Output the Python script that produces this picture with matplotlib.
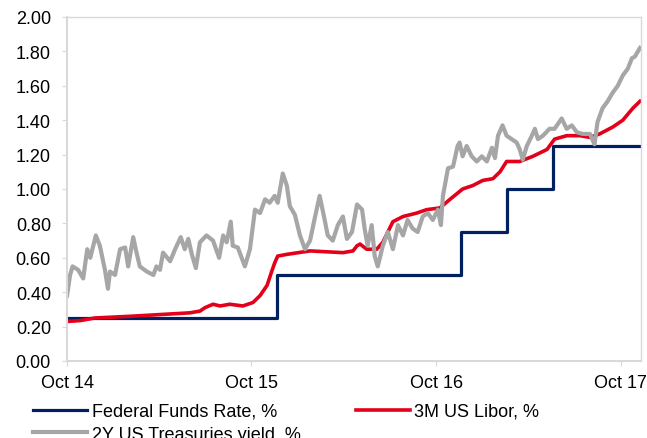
import pandas as pd
import matplotlib
matplotlib.use("Agg")
import matplotlib.pyplot as plt
import matplotlib.ticker as mticker

plt.rcParams['font.family'] = ['Liberation Sans', 'DejaVu Sans']

# day offsets counted from the first observation (27 Oct 2014)
start = pd.Timestamp("2014-10-27")

# 2Y US Treasuries yield, %
ust_days = [0, 6, 11, 22, 32, 40, 46, 57, 65, 75, 81, 85, 95, 105, 115, 121, 131,
            136, 144, 158, 171, 177, 184, 190, 204, 214, 225, 233, 240, 247, 255,
            263, 276, 289, 301, 309, 316, 324, 328, 338, 352, 362, 372, 382, 392,
            401, 411, 417, 427, 435, 441, 451, 461, 471, 481, 491, 500, 510, 516,
            526, 536, 546, 554, 564, 574, 584, 589, 595, 603, 609, 615, 625, 635,
            645, 655, 665, 674, 684, 694, 704, 714, 724, 734, 740, 744, 754, 764,
            773, 777, 783, 791, 801, 811, 821, 831, 841, 847, 853, 862, 870, 880,
            890, 896, 902, 910, 920, 926, 932, 942, 955, 965, 979, 989, 999, 1009,
            1021, 1035, 1044, 1050, 1060, 1070, 1080, 1090, 1100, 1110, 1118, 1124,
            1134]
ust_vals = [0.38, 0.50, 0.55, 0.53, 0.48, 0.65, 0.60, 0.73, 0.67, 0.53, 0.42, 0.52,
            0.50, 0.65, 0.66, 0.55, 0.72, 0.65, 0.55, 0.52, 0.50, 0.55, 0.53, 0.63,
            0.58, 0.65, 0.72, 0.65, 0.71, 0.62, 0.54, 0.69, 0.73, 0.70, 0.60, 0.73,
            0.69, 0.81, 0.67, 0.66, 0.55, 0.65, 0.88, 0.86, 0.94, 0.92, 0.96, 0.92,
            1.09, 1.02, 0.90, 0.85, 0.73, 0.65, 0.70, 0.84, 0.96, 0.82, 0.73, 0.70,
            0.79, 0.84, 0.71, 0.75, 0.91, 0.88, 0.77, 0.67, 0.79, 0.61, 0.55, 0.67,
            0.75, 0.65, 0.79, 0.73, 0.82, 0.77, 0.75, 0.84, 0.86, 0.82, 0.88, 0.79,
            0.96, 1.12, 1.13, 1.25, 1.27, 1.19, 1.25, 1.19, 1.16, 1.19, 1.16, 1.24,
            1.18, 1.31, 1.37, 1.31, 1.29, 1.27, 1.23, 1.17, 1.25, 1.31, 1.35, 1.29,
            1.31, 1.35, 1.35, 1.41, 1.35, 1.37, 1.33, 1.32, 1.32, 1.26, 1.39, 1.47,
            1.51, 1.56, 1.60, 1.66, 1.70, 1.76, 1.77, 1.82]

# 3M US Libor, %
libor_days = [0, 26, 55, 125, 184, 243, 263, 273, 289, 303, 322, 348, 368, 382,
              396, 405, 411, 417, 435, 481, 546, 566, 574, 580, 593, 613, 625, 645,
              665, 692, 712, 738, 758, 783, 803, 823, 843, 857, 870, 896, 922, 950,
              965, 989, 1015, 1035, 1054, 1080, 1100, 1120, 1134]
libor_vals = [0.23, 0.235, 0.25, 0.26, 0.27, 0.28, 0.29, 0.31, 0.33, 0.32, 0.33,
              0.32, 0.34, 0.38, 0.44, 0.52, 0.57, 0.61, 0.62, 0.64, 0.63, 0.64,
              0.67, 0.68, 0.65, 0.65, 0.69, 0.81, 0.84, 0.86, 0.88, 0.89, 0.94,
              1.00, 1.02, 1.05, 1.06, 1.10, 1.16, 1.16, 1.19, 1.23, 1.29, 1.31,
              1.31, 1.30, 1.32, 1.36, 1.40, 1.47, 1.51]

# Federal Funds Rate, % (upper bound, changes)
fed_dates = ["2014-10-27", "2015-12-16", "2016-12-14", "2017-03-15", "2017-06-14", "2017-12-05"]
fed_vals = [0.25, 0.50, 0.75, 1.00, 1.25, 1.25]

tick_labels = ["Oct 14", "Oct 15", "Oct 16", "Oct 17"]

ust_x = start + pd.to_timedelta(ust_days, unit="D")
libor_x = start + pd.to_timedelta(libor_days, unit="D")
fed_x = pd.to_datetime(fed_dates)

fig = plt.figure(figsize=(6.47, 4.39), dpi=100)
ax = fig.add_axes([0.1036, 0.1754, 0.8871, 0.7836])

l_fed, = ax.plot(fed_x, fed_vals, drawstyle="steps-post", color="#002060", lw=2.3,
                 label="Federal Funds Rate, %")
l_lib, = ax.plot(libor_x, libor_vals, color="#e2001a", lw=2.6, label="3M US Libor, %")
l_ust, = ax.plot(ust_x, ust_vals, color="#a6a6a6", lw=3.0, label="2Y US Treasuries yield, %")

ax.set_ylim(0, 2.0)
ax.set_xlim(start, start + pd.Timedelta(days=1136))
ax.yaxis.set_major_locator(mticker.MultipleLocator(0.2))
ax.yaxis.set_major_formatter(mticker.FormatStrFormatter("%.2f"))

ticks = [start + pd.DateOffset(years=i) for i in range(len(tick_labels))]
ax.set_xticks(ticks)
ax.set_xticklabels(tick_labels)

for sp in ax.spines.values():
    sp.set_color("#d9d9d9")
    sp.set_linewidth(1.0)
ax.spines["left"].set_linewidth(1.5)
ax.spines["bottom"].set_linewidth(1.5)
ax.tick_params(axis="y", length=3.6, color="#d9d9d9", pad=8, labelsize=13)
ax.tick_params(axis="x", length=3.6, color="#d9d9d9", pad=6, labelsize=13)

fig.legend([l_fed, l_ust, l_lib], [l.get_label() for l in (l_fed, l_ust, l_lib)],
           ncol=2, loc="upper left", bbox_to_anchor=(0.051, 0.080),
           bbox_transform=fig.transFigure,
           frameon=False, fontsize=13, handlelength=3.0, handletextpad=0.25,
           columnspacing=3.05, labelspacing=0.32, borderaxespad=0, borderpad=0)

fig.savefig("out.png", dpi=100)
